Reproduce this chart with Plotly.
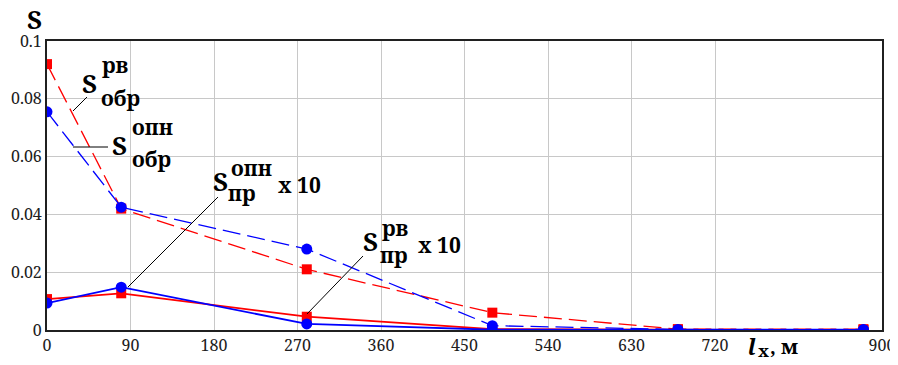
import plotly.graph_objects as go

# ---- data ----
l_x = [0, 80, 280, 480, 680, 880]
s_obr_rv = [0.092, 0.042, 0.021, 0.006, 0.0003, 0.0003]     # red dashed, squares
s_obr_opn = [0.0755, 0.0425, 0.028, 0.0015, 0.0002, 0.0002]  # blue dashed, circles
s_pr_rv = [0.0107, 0.0127, 0.0046, 0.0003, 0.0001, 0.0]      # red solid, squares (x10)
s_pr_opn = [0.0093, 0.0148, 0.0021, 0.0001, 0.0, 0.0]        # blue solid, circles (x10)

x_ticks = [0, 90, 180, 270, 360, 450, 540, 630, 720, 900]
y_ticks = [0, 0.02, 0.04, 0.06, 0.08, 0.1]
y_tick_text = ["0", "0.02", "0.04", "0.06", "0.08", "0.1"]

RED = "#ff0000"
BLUE = "#0000ff"
DASH = "18px,7px"

# page body has an 8px margin; figure occupies (8,8)-(898,365)
OFF = 8
W, H = 898 - OFF, 365 - OFF
# plot area geometry (window pixels)
L, R, T, B = 47, 882, 41, 330


def px(x):
    return (x - L) / (R - L)


def py(y):
    return (B - y) / (B - T)


fig = go.Figure()
fig.add_trace(go.Scatter(x=l_x, y=s_obr_rv, mode="lines+markers",
                         line=dict(color=RED, width=1.3, dash=DASH),
                         marker=dict(symbol="square", size=10, color=RED)))
fig.add_trace(go.Scatter(x=l_x, y=s_pr_rv, mode="lines+markers",
                         line=dict(color=RED, width=1.8),
                         marker=dict(symbol="square", size=10, color=RED)))
fig.add_trace(go.Scatter(x=l_x, y=s_obr_opn, mode="lines+markers",
                         line=dict(color=BLUE, width=1.3, dash=DASH),
                         marker=dict(symbol="circle", size=11, color=BLUE)))
fig.add_trace(go.Scatter(x=l_x, y=s_pr_opn, mode="lines+markers",
                         line=dict(color=BLUE, width=1.8),
                         marker=dict(symbol="circle", size=11, color=BLUE)))

SERIF = "Noto Serif"
annotations = []
shapes = []


def txt(t, x, y, size):
    annotations.append(dict(
        text="<b>%s</b>" % t, x=px(x), y=py(y), xref="paper", yref="paper",
        xanchor="left", yanchor="middle", showarrow=False,
        font=dict(family=SERIF, size=size, color="black"),
    ))


def box(x0, y0, x1, y1):
    shapes.append(dict(type="rect", xref="paper", yref="paper",
                       x0=px(x0), x1=px(x1), y0=py(y0), y1=py(y1),
                       fillcolor="white", line=dict(width=0), layer="between"))


def leader(x0, y0, x1, y1):
    shapes.append(dict(type="line", xref="paper", yref="paper",
                       x0=px(x0), x1=px(x1), y0=py(y0), y1=py(y1),
                       line=dict(color="black", width=1), layer="above"))


# white backgrounds behind labels
box(80, 60, 142, 110)
box(110, 118, 176, 172)
box(206, 158, 326, 203)
box(358, 218, 468, 264)

# label 1: S обр рв
txt("S", 80, 83, 26)
txt("рв", 100, 65, 21)
txt("обр", 99, 98, 21)
leader(73, 111, 87, 97)
# label 2: S обр опн
txt("S", 110, 145, 26)
txt("опн", 130, 127, 21)
txt("обр", 130, 159, 21)
leader(73, 147, 108, 147)
# label 3: S пр опн x 10
txt("S", 211, 181, 26)
txt("опн", 229, 168, 21)
txt("пр", 226, 193, 21)
txt("x 10", 276, 185, 21)
leader(128, 287, 218, 197)
# label 4: S пр рв x 10
txt("S", 361, 241, 26)
txt("рв", 380, 228, 21)
txt("пр", 378, 255, 21)
txt("x 10", 416, 245, 21)
leader(307, 314, 363, 256)

# axis titles
txt("S", 25, 19, 26)
txt("<i>l</i>", 746, 346, 22)
txt("x", 756, 350, 17)
txt(", м", 768, 346, 20)

axis_common = dict(showgrid=True, gridcolor="#c8c8c8", gridwidth=1,
                   showline=True, linecolor="#202020", linewidth=2, mirror=True,
                   zeroline=False, ticks="", automargin=False,
                   tickfont=dict(family=SERIF, size=16, color="#202020"))

fig.update_layout(
    width=W, height=H,
    margin=dict(l=L - OFF, r=(W + OFF) - R, t=T - OFF, b=(H + OFF) - B,
                autoexpand=False),
    paper_bgcolor="white", plot_bgcolor="white",
    showlegend=False,
    xaxis=dict(range=[0, 900], tickvals=x_ticks,
               ticktext=[str(v) for v in x_ticks], **axis_common),
    yaxis=dict(range=[0, 0.1], tickvals=y_ticks, ticktext=y_tick_text,
               **axis_common),
    annotations=annotations,
    shapes=shapes,
)

fig.write_html("out.html")
